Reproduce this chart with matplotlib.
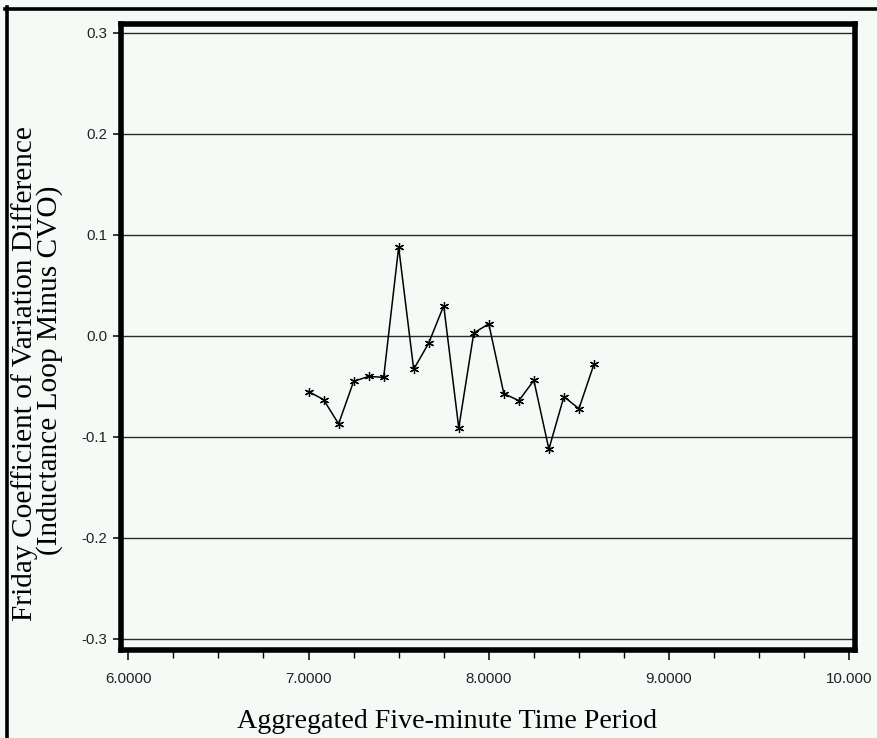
import matplotlib
matplotlib.use("Agg")
import matplotlib.pyplot as plt
from matplotlib.lines import Line2D

# ---- data ----
x_values = [7.0000, 7.0833, 7.1667, 7.2500, 7.3333, 7.4167, 7.5000, 7.5833, 7.6667, 7.7500,
            7.8333, 7.9167, 8.0000, 8.0833, 8.1667, 8.2500, 8.3333, 8.4167, 8.5000, 8.5833]
cv_diff = [-0.055, -0.063, -0.087, -0.045, -0.040, -0.041, 0.088, -0.033, -0.007, 0.030,
           -0.091, 0.003, 0.012, -0.057, -0.064, -0.044, -0.112, -0.060, -0.072, -0.028]
x_ticks = [6.0, 7.0, 8.0, 9.0, 10.0]
x_tick_labels = ["6.0000", "7.0000", "8.0000", "9.0000", "10.000"]
x_minor_ticks = [6.25, 6.5, 6.75, 7.25, 7.5, 7.75, 8.25, 8.5, 8.75, 9.25, 9.5, 9.75]
y_ticks = [-0.3, -0.2, -0.1, 0.0, 0.1, 0.2, 0.3]
y_tick_labels = ["-0.3", "-0.2", "-0.1", "0.0", "0.1", "0.2", "0.3"]
x_label = "Aggregated Five-minute Time Period"
y_label_lines = ["Friday Coefficient of Variation Difference",
                 "(Inductance Loop Minus CVO)"]

W, H = 878, 738
BG = "#f6faf7"
fig = plt.figure(figsize=(W / 100, H / 100), dpi=100, facecolor=BG)

L, R, T, B = 121, 855.5, 24, 649.5
ax = fig.add_axes([L / W, (H - B) / H, (R - L) / W, (B - T) / H], facecolor=BG)
ax.set_xlim(5.9595, 10.0344)
ax.set_ylim(-0.3104, 0.3089)

for y in y_ticks:
    ax.axhline(y, color="#2a2a2a", lw=1.0, zorder=1)

ax.plot(x_values, cv_diff, color="black", lw=1.1, marker=(6, 2, 0), ms=6.5,
        mew=0.9, mec="black", zorder=3)

for s in ax.spines.values():
    s.set_linewidth(4.0)
    s.set_color("black")
    s.set_zorder(5)

ax.set_xticks(x_ticks)
ax.set_xticklabels(x_tick_labels)
ax.set_xticks(x_minor_ticks, minor=True)
ax.set_yticks(y_ticks)
ax.set_yticklabels(y_tick_labels)
ax.tick_params(axis="x", which="major", length=7.2, width=1.1, pad=9,
               labelsize=10.8, colors="black")
ax.tick_params(axis="x", which="minor", length=5.4, width=1.0)
ax.tick_params(axis="y", which="major", length=5.8, width=1.1, pad=4,
               labelsize=10.8)
for lab in ax.get_xticklabels() + ax.get_yticklabels():
    lab.set_family("Liberation Sans")
    lab.set_color("#222222")

fig.text(446.7 / W, 1 - 728 / H, x_label, family="Liberation Serif",
         fontsize=20.2, ha="center", va="baseline")
fig.text(32 / W, 1 - 374 / H, y_label_lines[0], family="Liberation Serif",
         fontsize=21.2, ha="center", va="baseline", rotation=90,
         rotation_mode="anchor")
fig.text(57 / W, 1 - 370 / H, y_label_lines[1], family="Liberation Serif",
         fontsize=21.2, ha="center", va="baseline", rotation=90,
         rotation_mode="anchor")

# outer border lines (top and left)
fig.add_artist(Line2D([5 / W, 1.0], [1 - 8.5 / H, 1 - 8.5 / H], color="black",
                      lw=2.6, transform=fig.transFigure))
fig.add_artist(Line2D([7 / W, 7 / W], [0, 1 - 7 / H], color="black",
                      lw=2.6, transform=fig.transFigure))

fig.savefig("out.png", dpi=100, facecolor=BG)
